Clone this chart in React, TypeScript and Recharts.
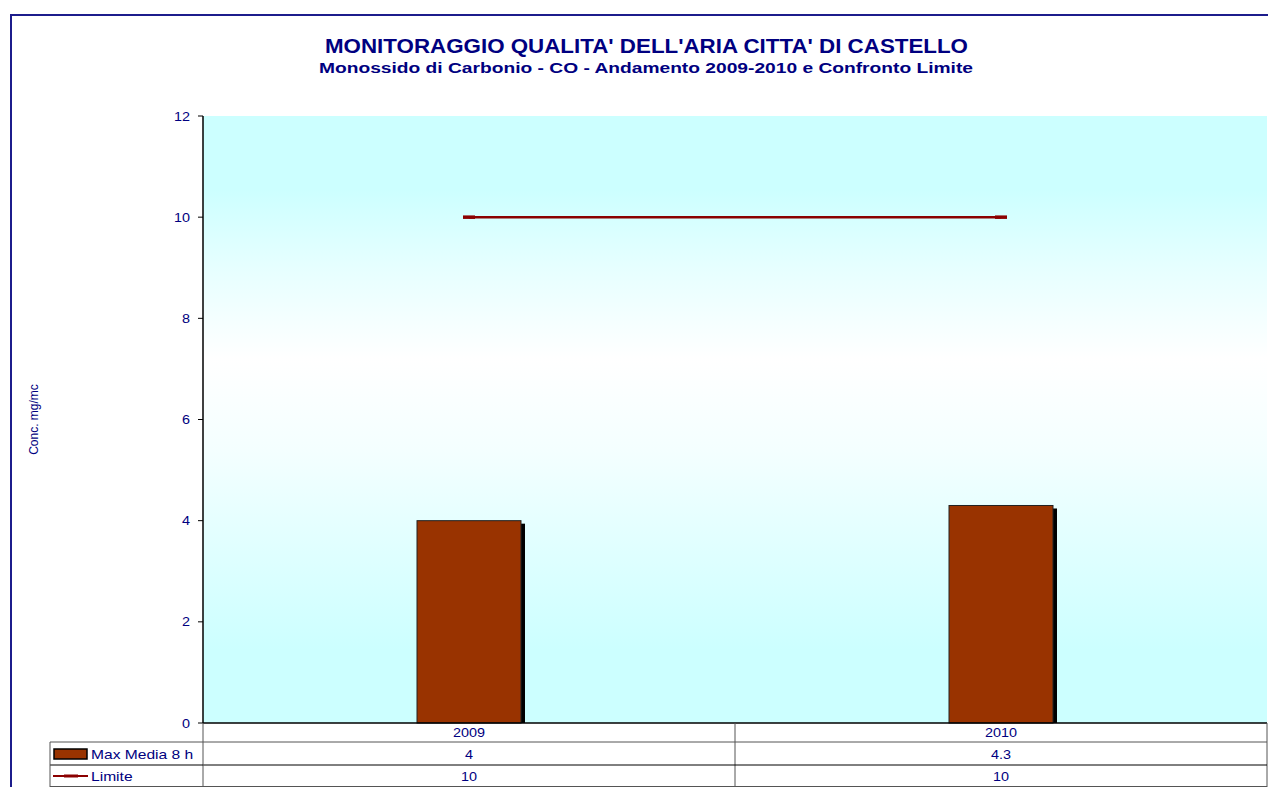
import React from "react";
import { ComposedChart, Bar, Line, XAxis, YAxis, CartesianGrid, Label } from "recharts";

const categories = ["2009", "2010"];
const maxMedia8h = [4, 4.3];
const limite = [10, 10];
const yTicks = [0, 2, 4, 6, 8, 10, 12];
const seriesNames = ["Max Media 8 h", "Limite"];
const titleText = "MONITORAGGIO QUALITA' DELL'ARIA CITTA' DI CASTELLO";
const subtitleText = "Monossido di Carbonio - CO - Andamento 2009-2010 e Confronto Limite";
const yLabel = "Conc. mg/mc";

const data = categories.map((c, i) => ({ cat: c, max: maxMedia8h[i], limite: limite[i] }));

const W = 1268;
const H = 787;
const PL = 203;
const PR = 1267;
const PT = 116;
const PB = 723;
const NAVY = "#000080";
const FONT = "Arial, 'Liberation Sans', sans-serif";
const BAR = "#993300";
const LINE = "#8B0000";
const ROW1 = 742;
const ROW2 = 765;
const ROW3 = 787;
const LEGX = 50;
const SX = 1.2;

const band = (PR - PL) / categories.length;

const SText = (p: { x: number; y: number; anchor?: string; size: number; children: any }) => (
  <g transform={`translate(${p.x},${p.y}) scale(${SX},1)`}>
    <text x={0} y={0} textAnchor={(p.anchor as any) || "start"} fontSize={p.size} fill={NAVY} fontFamily={FONT}>
      {p.children}
    </text>
  </g>
);

const XTick = (props: any) => {
  const { x, index, payload } = props;
  const left = x - band / 2;
  const right = x + band / 2;
  const i = index;
  return (
    <g>
      <line x1={right} y1={PB} x2={right} y2={ROW3} stroke="#555" strokeWidth={1} />
      <line x1={left} y1={ROW1} x2={right} y2={ROW1} stroke="#555" strokeWidth={1} />
      <line x1={left} y1={ROW2} x2={right} y2={ROW2} stroke="#000" strokeWidth={1} />
      <line x1={left} y1={ROW3 - 0.5} x2={right} y2={ROW3 - 0.5} stroke="#555" strokeWidth={1} />
      <SText x={x} y={737} anchor="middle" size={12}>{payload.value}</SText>
      <SText x={x} y={759} anchor="middle" size={12}>{String(maxMedia8h[i])}</SText>
      <SText x={x} y={781} anchor="middle" size={12}>{String(limite[i])}</SText>
      {i === 0 && (
        <g>
          <line x1={left} y1={PB} x2={left} y2={ROW3} stroke="#555" strokeWidth={1} />
          <line x1={LEGX} y1={ROW1} x2={left} y2={ROW1} stroke="#555" strokeWidth={1} />
          <line x1={LEGX} y1={ROW2} x2={left} y2={ROW2} stroke="#000" strokeWidth={1} />
          <line x1={LEGX} y1={ROW3 - 0.5} x2={left} y2={ROW3 - 0.5} stroke="#555" strokeWidth={1} />
          <line x1={LEGX} y1={ROW1} x2={LEGX} y2={ROW3} stroke="#555" strokeWidth={1} />
          <rect x={54} y={749} width={33} height={10} fill={BAR} stroke="#000" strokeWidth={1.5} />
          <SText x={91} y={759} size={13}>{seriesNames[0]}</SText>
          <line x1={53} y1={776} x2={88} y2={776} stroke={LINE} strokeWidth={2} />
          <line x1={64} y1={776} x2={78} y2={776} stroke={LINE} strokeWidth={3} />
          <SText x={91} y={781} size={13}>{seriesNames[1]}</SText>
        </g>
      )}
    </g>
  );
};

const YTick = (props: any) => {
  const { x, y, payload } = props;
  return <SText x={x} y={y + 4.5} anchor="end" size={12}>{String(payload.value)}</SText>;
};

const ShadowBar = (props: any) => {
  const { x, y, width, height } = props;
  if (!height || height <= 0) return null;
  return (
    <g>
      <rect x={x + 4} y={y + 3} width={width} height={height - 3} fill="#000" />
      <rect x={x} y={y} width={width} height={height} fill={BAR} stroke="#222" strokeWidth={1} />
    </g>
  );
};

const DashDot = (props: any) => {
  const { cx, cy } = props;
  return <rect x={cx - 6} y={cy - 1.75} width={12} height={3.5} fill={LINE} />;
};

export default function App() {
  return (
    <div style={{ position: "absolute", left: 0, top: 0, width: W, height: H, background: "#fff", overflow: "hidden" }}>
      <div style={{ position: "absolute", left: 10, top: 14, width: W, height: H, border: "2px solid #1c1c8c", boxSizing: "border-box" }} />
      <svg style={{ position: "absolute", left: 0, top: 0 }} width={W} height={100}>
        <text x={325} y={53} textLength={643} lengthAdjust="spacingAndGlyphs" fontSize={19.5} fontWeight="bold" fill={NAVY} fontFamily={FONT}>{titleText}</text>
        <text x={319} y={73} textLength={654} lengthAdjust="spacingAndGlyphs" fontSize={14.5} fontWeight="bold" fill={NAVY} fontFamily={FONT}>{subtitleText}</text>
      </svg>
      <div style={{ position: "absolute", left: 0, top: 0 }}>
        <ComposedChart width={W} height={H} data={data} margin={{ top: PT, left: 0, right: W - PR, bottom: 0 }}>
          <defs>
            <linearGradient id="plotBg" x1="0" y1="0" x2="0" y2="1">
              <stop offset="0%" stopColor="#ccffff" />
              <stop offset="12%" stopColor="#ccffff" />
              <stop offset="25%" stopColor="#e6ffff" />
              <stop offset="40%" stopColor="#ffffff" />
              <stop offset="55%" stopColor="#f4ffff" />
              <stop offset="72%" stopColor="#dfffff" />
              <stop offset="88%" stopColor="#ccffff" />
              <stop offset="100%" stopColor="#ccffff" />
            </linearGradient>
          </defs>
          <CartesianGrid horizontal={false} vertical={false} fill="url(#plotBg)" stroke="none" />
          <XAxis
            dataKey="cat"
            xAxisId="main"
            axisLine={{ stroke: "#000", strokeWidth: 1.5 }}
            tickLine={false}
            tick={<XTick />}
            interval={0}
            height={H - PB}
          />
          <XAxis xAxisId="top" orientation="top" dataKey="cat" tick={false} tickLine={false} axisLine={{ stroke: "#999", strokeWidth: 2 }} height={0} />
          <YAxis
            yAxisId="left"
            domain={[0, 12]}
            ticks={yTicks}
            interval={0}
            axisLine={{ stroke: "#000", strokeWidth: 1.5 }}
            tickLine={{ stroke: "#000" }}
            tickSize={5}
            tickMargin={8}
            tick={<YTick />}
            width={PL}
          >
            <Label value={yLabel} angle={-90} position="insideLeft" offset={34} style={{ fill: NAVY, fontSize: 12, fontFamily: FONT, textAnchor: "middle" }} />
          </YAxis>
          <YAxis yAxisId="right" orientation="right" domain={[0, 12]} tick={false} tickLine={false} axisLine={{ stroke: "#999", strokeWidth: 2 }} width={0} />
          <Bar xAxisId="main" yAxisId="left" dataKey="max" barSize={104} shape={<ShadowBar />} isAnimationActive={false} />
          <Line xAxisId="main" yAxisId="left" dataKey="limite" stroke={LINE} strokeWidth={2.5} dot={<DashDot />} activeDot={false} isAnimationActive={false} />
        </ComposedChart>
      </div>
    </div>
  );
}
